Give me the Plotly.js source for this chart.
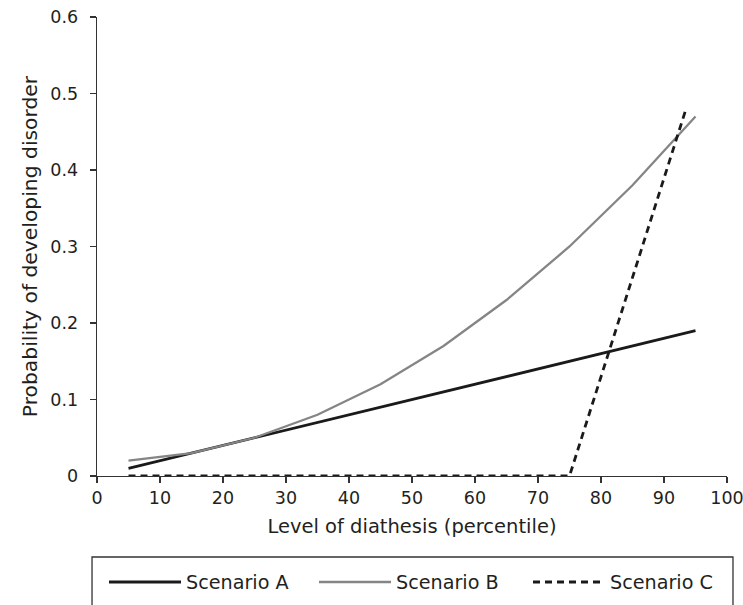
<!DOCTYPE html>
<html>
<head>
<meta charset="utf-8">
<script src="https://cdn.plot.ly/plotly-3.0.1.min.js"></script>
<style>html,body{margin:0;padding:0;background:#fff;}#chart{width:743px;height:605px;}</style>
</head>
<body>
<div id="chart"></div>
<script>
// Data
const xA = [5, 95];
const yA = [0.01, 0.19];

const xB = [5, 15, 25, 35, 45, 55, 65, 75, 85, 95];
const yB = [0.02, 0.03, 0.05, 0.08, 0.12, 0.17, 0.23, 0.30, 0.38, 0.47];

const xC = [5, 15, 25, 35, 45, 55, 65, 75, 93.5];
const yC = [0, 0, 0, 0, 0, 0, 0, 0, 0.48];

const names = ['Scenario A', 'Scenario B', 'Scenario C'];
const xTicks = [0, 10, 20, 30, 40, 50, 60, 70, 80, 90, 100];
const yTicks = [0, 0.1, 0.2, 0.3, 0.4, 0.5, 0.6];
const yTickText = ['0', '0.1', '0.2', '0.3', '0.4', '0.5', '0.6'];

const FONT = 'DejaVu Sans, sans-serif';
const TXT = '#231f20';

const traces = [
  {x: xA, y: yA, name: names[0], mode: 'lines', legend: 'legend', line: {color: '#1a1a1a', width: 2.8}},
  {x: xB, y: yB, name: names[1], mode: 'lines', legend: 'legend2', line: {color: '#858585', width: 2.3}},
  {x: xC, y: yC, name: names[2], mode: 'lines', legend: 'legend3', line: {color: '#1a1a1a', width: 2.8, dash: '7px,5px'}}
];

function leg(xpx) {
  return {
    orientation: 'h', xref: 'container', yref: 'container',
    x: xpx / 743, xanchor: 'left', y: 23 / 605, yanchor: 'middle',
    font: {size: 19.2, family: FONT, color: TXT},
    itemwidth: 72,
    bgcolor: 'rgba(0,0,0,0)', borderwidth: 0
  };
}

const layout = {
  width: 743, height: 605,
  margin: {l: 97, r: 16, t: 17, b: 129, autoexpand: false},
  paper_bgcolor: '#fff', plot_bgcolor: '#fff',
  font: {family: FONT, size: 17, color: TXT},
  showlegend: true,
  xaxis: {
    range: [0, 100], tickvals: xTicks, ticktext: xTicks.map(String),
    showgrid: false, zeroline: false, showline: true, linecolor: '#333', linewidth: 1.3,
    ticks: 'outside', ticklen: 6, tickcolor: '#333', tickwidth: 1.3,
    tickfont: {size: 17.5, family: FONT, color: TXT},
    ticklabeloverflow: 'allow',
    title: {text: 'Level of diathesis (percentile)', font: {size: 19.5, family: FONT, color: TXT}, standoff: 12}
  },
  yaxis: {
    range: [0, 0.6], tickvals: yTicks, ticktext: yTickText,
    showgrid: false, zeroline: false, showline: true, linecolor: '#333', linewidth: 1.3,
    ticks: 'outside', ticklen: 6, tickcolor: '#333', tickwidth: 1.3,
    tickfont: {size: 17.5, family: FONT, color: TXT},
    ticklabelstandoff: 8,
    title: {text: 'Probability of developing disorder', font: {size: 20.3, family: FONT, color: TXT}, standoff: 7}
  },
  legend: leg(104),
  legend2: leg(314),
  legend3: leg(528),
  shapes: [{
    type: 'rect', xref: 'paper', yref: 'paper',
    x0: -0.0079, x1: 1.0095, y0: -0.45, y1: -0.1765,
    line: {color: '#333', width: 1.3}, fillcolor: 'rgba(0,0,0,0)'
  }]
};

Plotly.newPlot('chart', traces, layout, {displayModeBar: false, staticPlot: true});
</script>
</body>
</html>
